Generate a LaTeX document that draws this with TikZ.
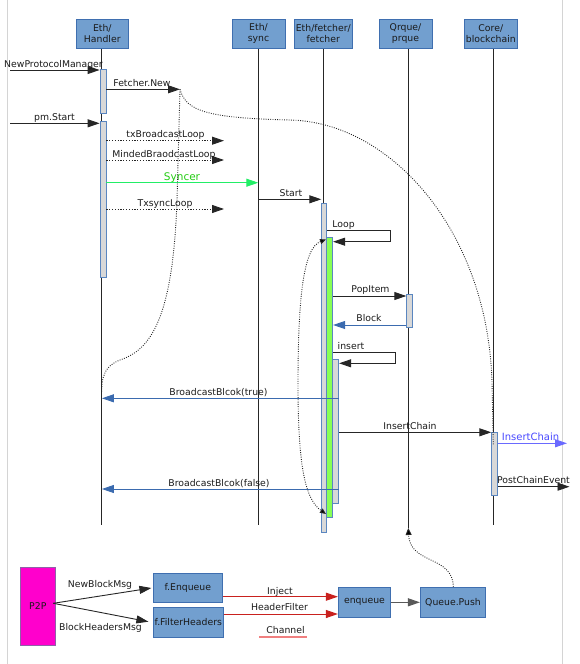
\documentclass[tikz,border=0pt]{standalone}
\usepackage{fontspec}
\setmainfont{DejaVu Sans}
\usetikzlibrary{arrows.meta}
\definecolor{hdrfill}{HTML}{729FCF}
\definecolor{hdrline}{HTML}{3F6FB0}
\definecolor{actfill}{HTML}{D8D8D8}
\definecolor{actline}{HTML}{5A86C0}
\definecolor{actgreen}{HTML}{88FF55}
\definecolor{bluemsg}{HTML}{3B6BAF}
\definecolor{syncg}{HTML}{22EE66}
\definecolor{syncgt}{HTML}{22CC11}
\definecolor{icblue}{HTML}{4848FF}
\definecolor{icline}{HTML}{6A6AFF}
\definecolor{redmsg}{HTML}{C9211E}
\definecolor{pinkline}{HTML}{F08080}
\definecolor{p2pfill}{HTML}{FF00CC}
\definecolor{p2pline}{HTML}{9060A8}
\definecolor{framegray}{HTML}{D4D4D4}
\definecolor{txt}{HTML}{1A1A1A}
\newcommand\lblfont{\fontsize{9.3}{11}\selectfont}
\begin{document}
\begin{tikzpicture}[x=1pt,y=-1pt,
  hdr/.style={draw=hdrline, fill=hdrfill, line width=0.8pt, minimum height=29.3pt, inner sep=0pt, align=center, font=\lblfont, text=txt},
  act/.style={draw=actline, fill=actfill, line width=0.8pt, minimum width=6pt, inner sep=0pt, anchor=north},
  life/.style={draw=black!85, line width=0.9pt},
  lab/.style={anchor=base, inner sep=0pt, font=\lblfont, text=txt},
  big/.style={-{Triangle[length=12pt,width=8pt]}},
  msg/.style={big, draw=black!85, line width=0.9pt},
  dmsg/.style={big, draw=black!85, line width=0.9pt, dash pattern=on 1.2pt off 1.6pt},
  bmsg/.style={big, draw=bluemsg, line width=0.9pt},
  gmsg/.style={big, draw=syncg, line width=0.9pt},
  rmsg/.style={big, draw=redmsg, line width=1pt},
  dotc/.style={draw=black!85, line width=0.9pt, dash pattern=on 0.9pt off 1.4pt},
  small/.style={-{Triangle[length=7pt,width=6pt,fill=black]}},
]
\useasboundingbox (0,0) rectangle (579,664);
% page frame
\draw[framegray, line width=1.5pt] (7.3,0) -- (7.3,664);
\draw[framegray, line width=1.5pt] (562.5,0) -- (562.5,664);

% headers
\node[hdr, minimum width=52.7pt] (hH) at (102.3,33.7) {Eth/\\Handler};
\node[hdr, minimum width=53pt] (hS) at (258.5,33.7) {Eth/\\sync};
\node[hdr, minimum width=58.7pt] (hF) at (323.3,33.7) {Eth/fetcher/\\fetcher};
\node[hdr, minimum width=53pt] (hP) at (405.5,33.7) {Qrque/\\prque};
\node[hdr, minimum width=53pt] (hB) at (490.8,33.7) {Core/\\blockchain};

% lifelines
\coordinate (lH) at (101.9,525);
\coordinate (lS) at (258.3,525);
\coordinate (lF) at (323.5,525);
\coordinate (lP) at (408.3,528);
\coordinate (lB) at (493.3,525);
\draw[life] (hH.south -| lH) -- (lH);
\draw[life] (hS.south -| lS) -- (lS);
\draw[life] (hF.south -| lF) -- (lF);
\draw[life] (hP.south -| lP) -- (lP);
\draw[life] (hB.south -| lB) -- (lB);

% activations
\node[act, minimum height=43.4pt] (aH1) at (103,69.3) {};
\node[act, minimum height=156.3pt] (aH2) at (103,120.7) {};
\node[act, minimum width=5pt, minimum height=328.7pt] (aF1) at (324.2,203.3) {};
\node[act, fill=actgreen, minimum width=6pt, minimum height=280.3pt] (aG) at (329.7,236.7) {};
\node[act, minimum width=6pt, minimum height=144pt] (a3) at (335.7,359) {};
\node[act, minimum width=5.6pt, minimum height=33.3pt] (aP) at (409.5,294) {};
\node[act, minimum width=5.6pt, minimum height=62.7pt] (aB) at (494.5,432.3) {};

% messages
\coordinate (npmS) at (10,70);
\draw[msg] (npmS) -- (aH1.west |- npmS);
\node[lab] at (53.5,67.5) {NewProtocolManager};

\coordinate (fnT) at (180,89.3);
\draw[msg] (aH1.east |- fnT) -- (fnT);
\node[lab] at (142,86.5) {Fetcher.New};

\coordinate (pmS) at (10,123.3);
\draw[msg] (pmS) -- (aH2.west |- pmS);
\node[lab] at (54.5,120.5) {pm.Start};

\coordinate (txbT) at (224,140.7);
\draw[dmsg] (aH2.east |- txbT) -- (txbT);
\node[lab] at (165.5,137.7) {txBroadcastLoop};

\coordinate (mbT) at (224,160);
\draw[dmsg] (aH2.east |- mbT) -- (mbT);
\node[lab] at (164,157) {MindedBraodcastLoop};

\coordinate (syY) at (0,182.7);
\draw[gmsg] (aH2.east |- syY) -- (lS |- syY);
\node[lab, font=\fontsize{10.5}{12}\selectfont, text=syncgt] at (182,180) {Syncer};

\coordinate (stY) at (0,199.3);
\draw[msg] (lS |- stY) -- (aF1.west |- stY);
\node[lab] at (291,196.3) {Start};

\coordinate (tsT) at (224,209);
\draw[dmsg] (aH2.east |- tsT) -- (tsT);
\node[lab] at (165,206) {TxsyncLoop};

\coordinate (lpA) at (390,230.7);
\coordinate (lpB) at (390,241.7);
\draw[msg] (aF1.east |- lpA) -- (lpA) -- (lpB) -- (aG.east |- lpB);
\node[lab] at (343.5,227.5) {Loop};

\coordinate (piY) at (0,296);
\draw[msg] (aG.east |- piY) -- (aP.west |- piY);
\node[lab] at (370.5,292.5) {PopItem};

\coordinate (blY) at (0,325);
\draw[bmsg] (aP.west |- blY) -- (aG.east |- blY);
\node[lab] at (369,321.5) {Block};

\coordinate (inA) at (395.7,352.3);
\coordinate (inB) at (395.7,363.3);
\draw[msg] (aG.east |- inA) -- (inA) -- (inB) -- (a3.east |- inB);
\node[lab] at (351,349) {insert};

\coordinate (bbtY) at (0,398.3);
\draw[bmsg] (a3.east |- bbtY) -- (lH |- bbtY);
\node[lab] at (218.5,395.7) {BroadcastBlcok(true)};

\coordinate (icY) at (0,432.3);
\draw[msg] (a3.east |- icY) -- (aB.west |- icY);
\node[lab] at (410,429.3) {InsertChain};

\coordinate (bbfY) at (0,489);
\draw[bmsg] (a3.east |- bbfY) -- (lH |- bbfY);
\node[lab] at (219,486) {BroadcastBlcok(false)};

\coordinate (ic2T) at (567,443.3);
\draw[big, draw=icline, line width=1pt] (aB.east |- ic2T) -- (ic2T);
\node[lab, font=\fontsize{10}{12}\selectfont, text=icblue] at (530.5,440) {InsertChain};

\coordinate (pceT) at (569.5,486.7);
\draw[msg] (aB.east |- pceT) -- (pceT);
\node[lab] at (533.5,483.3) {PostChainEvent};

% dotted curves
\draw[dotc] (fnT) -- (177,200) .. controls (173,320) and (150,350) .. (120,360) .. controls (105,366) and (101.5,375) .. (101.5,396);
\draw[dotc] (fnT) .. controls (186,112) and (210,118) .. (290,120) .. controls (390,122) and (488,230) .. (492,383) -- (lB |- 0,445);
\draw[dotc, {Triangle[length=6pt,width=5pt,fill=black]}-{Triangle[length=6pt,width=5pt,fill=black]}] (326,239.5) .. controls (303,248) and (298,300) .. (298,385) .. controls (298,470) and (306,500) .. (326,514);

% bottom part
\node[draw=p2pline, fill=p2pfill, line width=0.8pt, minimum width=34.3pt, minimum height=78.4pt, inner sep=0pt, font=\lblfont, text=txt] (p2p) at (37.8,606.5) {P2P};
\node[hdr, minimum width=69pt, minimum height=29.4pt] (fenq) at (187.8,588) {f.Enqueue};
\node[hdr, minimum width=70pt, minimum height=30pt] (ffh) at (188.3,622.3) {f.FilterHeaders};
\node[hdr, minimum width=52.4pt, minimum height=30pt] (enq) at (364.5,602.3) {enqueue};
\node[hdr, minimum width=65.4pt, minimum height=30pt] (qpush) at (453,602.3) {Queue.Push};

\coordinate (p2pO) at (53.3,603.3);
\draw[msg] (p2pO) -- ([xshift=-1.5pt]fenq.west);
\draw[msg] (p2pO) -- ([xshift=-4.5pt,yshift=0.6pt]ffh.west);
\node[lab] at (100,587.7) {NewBlockMsg};
\node[lab] at (100.5,630.7) {BlockHeadersMsg};

\coordinate (injY) at (0,596.7);
\draw[rmsg] (fenq.east |- injY) -- (enq.west |- injY);
\node[lab] at (280,594) {Inject};
\coordinate (hfY) at (0,614);
\draw[rmsg] (ffh.east |- hfY) -- (enq.west |- hfY);
\node[lab] at (279.5,610.7) {HeaderFilter};
\node[lab] at (285.5,633.3) {Channel};
\draw[pinkline, line width=1.3pt] (259.3,636.9) -- (307.3,636.9);

\draw[big, draw=black!65, line width=1.3pt] (enq.east) -- (qpush.west);
\draw[dotc, small] ([xshift=0.3pt]qpush.north) .. controls (453,555) and (410,565) .. (lP);
\end{tikzpicture}
\end{document}
